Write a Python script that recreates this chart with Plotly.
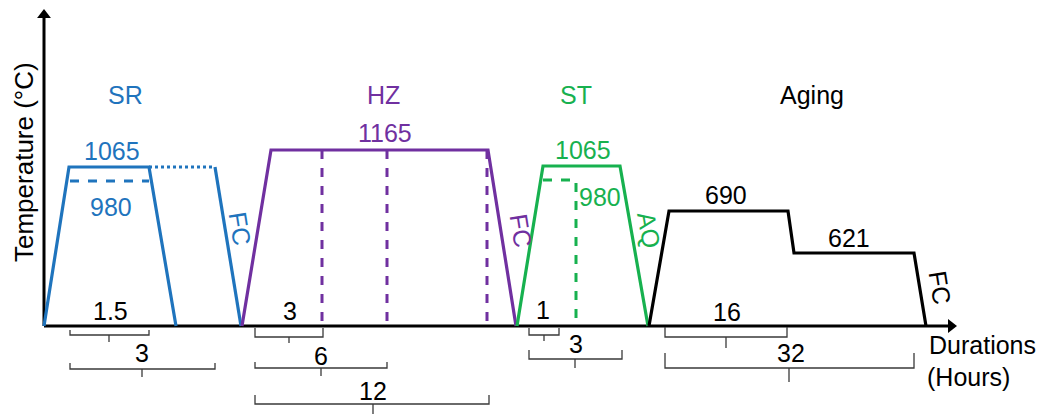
import plotly.graph_objects as go

W, H = 1043, 414
FONT = "Liberation Sans, Arial, sans-serif"
FS = 25

BLUE = "#1f74bd"
PURPLE = "#7030a0"
GREEN = "#17b14f"
BLACK = "#000000"
GREY = "#3a3a3a"

# ---- schematic path vertices (drawing units: x to the right, y downward) ----
sr_x = [44, 69, 149, 176]
sr_y = [326, 167, 167, 326]
sr_dot_x = [149, 215]
sr_dot_y = [167, 167]
sr_fc_x = [215, 241]
sr_fc_y = [167, 326]
sr_980_x = [70, 149]
sr_980_y = [181, 181]

hz_x = [242, 271, 488, 516]
hz_y = [326, 150, 150, 326]
hz_dash_x = [322, 387, 487]

st_x = [517, 543, 620, 648]
st_y = [326, 166, 166, 326]
st_980_x = [543, 576, 576]
st_980_y = [180, 180, 326]

ag_x = [649, 669, 788, 794, 914, 926]
ag_y = [326, 211, 211, 253, 253, 326]

# brackets: (left, right, top, line, tick_x, tick_bottom, label, label_x, label_y)
brackets = [
    (70, 149, 330, 335, 109, 342, "1.5", 110, 311),
    (70, 215, 363, 369, 142, 377, "3", 142, 353),
    (255, 323, 328, 337, 289, 343, "3", 290, 311),
    (255, 387, 362, 368, 321, 376, "6", 321, 356),
    (255, 489, 395, 404, 373, 414, "12", 373, 391),
    (529, 559, 328, 335, 544, 341, "1", 543, 310),
    (529, 622, 350, 359, 575, 368, "3", 576, 344),
    (665, 787, 327, 337, 726, 348, "16", 727, 312),
    (665, 914, 353, 368, 789, 382, "32", 791, 353),
]

# text labels: (text, x, y, color, angle, size)
labels = [
    ("SR", 125, 95, BLUE, 0, FS),
    ("1065", 112, 151, BLUE, 0, FS),
    ("980", 111, 207, BLUE, 0, FS),
    ("FC", 240, 228, BLUE, 81, FS),
    ("HZ", 383, 95, PURPLE, 0, FS),
    ("1165", 385, 133, PURPLE, 0, FS),
    ("FC", 521, 230, PURPLE, 81, FS),
    ("ST", 576, 95, GREEN, 0, FS),
    ("1065", 583, 150, GREEN, 0, FS),
    ("980", 600, 197, GREEN, 0, FS),
    ("AQ", 649, 230, GREEN, 80, FS),
    ("Aging", 812, 95, BLACK, 0, FS),
    ("690", 726, 195, BLACK, 0, FS),
    ("621", 849, 238, BLACK, 0, FS),
    ("FC", 940, 287, BLACK, 81, FS),
    ("Durations", 982, 345, BLACK, 0, FS),
    ("(Hours)", 968, 377, BLACK, 0, FS),
    ("Temperature (°C)", 24, 162, BLACK, -90, 26),
]

fig = go.Figure()

def line(x, y, color, width=3.2, dash="solid"):
    fig.add_trace(go.Scatter(x=x, y=y, mode="lines",
                             line=dict(color=color, width=width, dash=dash),
                             hoverinfo="skip", showlegend=False))

# axes
line([44, 44], [326, 18], BLACK, 3)
line([44, 948], [326, 326], BLACK, 3)
fig.add_trace(go.Scatter(x=[44], y=[15], mode="markers",
                         marker=dict(symbol="triangle-up", size=12, color=BLACK),
                         hoverinfo="skip", showlegend=False))
fig.add_trace(go.Scatter(x=[951], y=[326], mode="markers",
                         marker=dict(symbol="triangle-right", size=12, color=BLACK),
                         hoverinfo="skip", showlegend=False))

# SR
line(sr_x, sr_y, BLUE)
line(sr_dot_x, sr_dot_y, BLUE, 3, "dot")
line(sr_fc_x, sr_fc_y, BLUE)
line(sr_980_x, sr_980_y, BLUE, 3, "dash")
# HZ
line(hz_x, hz_y, PURPLE)
for xv in hz_dash_x:
    line([xv, xv], [150, 326], PURPLE, 3, "dash")
# ST
line(st_x, st_y, GREEN)
line(st_980_x, st_980_y, GREEN, 3, "dash")
# Aging
line(ag_x, ag_y, BLACK)

# brackets
for (l, r, t, b, tx, tb, lab, lx, ly) in brackets:
    line([l, l, r, r, None, tx, tx], [t, b, b, t, None, b, tb], GREY, 1.3)
    fig.add_annotation(x=lx, y=ly, text=lab, showarrow=False,
                       font=dict(family=FONT, size=FS, color=BLACK),
                       xanchor="center", yanchor="middle")

for (txt, x, y, c, a, s) in labels:
    fig.add_annotation(x=x, y=y, text=txt, showarrow=False, textangle=a,
                       font=dict(family=FONT, size=s, color=c),
                       xanchor="center", yanchor="middle")

fig.update_layout(
    width=W, height=H,
    margin=dict(l=0, r=0, t=0, b=0),
    paper_bgcolor="white", plot_bgcolor="white",
    xaxis=dict(range=[0, W], visible=False, fixedrange=True),
    yaxis=dict(range=[H, 0], visible=False, fixedrange=True),
)

fig.write_html("out.html", config={"displayModeBar": False},
               post_script="document.body.style.margin='0';document.body.style.overflow='hidden';")
